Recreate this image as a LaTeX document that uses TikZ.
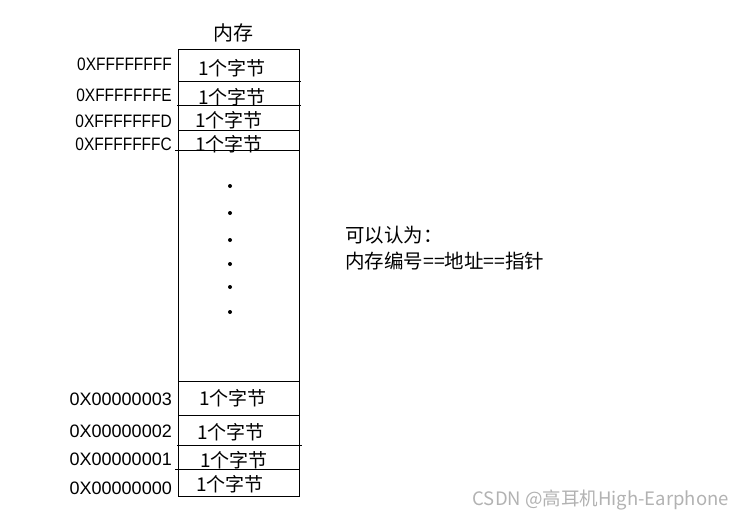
\documentclass[tikz,border=0pt]{standalone}
\usepackage{fontspec}
\setmainfont{Liberation Sans}
\newfontfamily\cjk{Noto Sans CJK SC}
\usetikzlibrary{positioning}

\begin{document}
\begin{tikzpicture}[x=1pt,y=-1pt,
addr/.style={anchor=east,inner sep=0pt,font=\fontsize{18}{18}\selectfont},
cell/.style={inner sep=0pt,font=\cjk\fontsize{19}{19}\selectfont},
dot/.style={circle,fill,inner sep=0pt,minimum size=4pt}]
\useasboundingbox (0,0) rectangle (743,520);
\node[cell,font=\cjk\fontsize{20}{20}\selectfont] (title) at (233,33) {内存};
\draw (178,49) rectangle (299,496);
\draw (178,81) -- (301,81) (177,105) -- (301,105) (178,130) -- (300,130)
(175,150) -- (299,150) (178,381) -- (299,381) (178,415) -- (299,415)
(177,445) -- (302,445) (175,469) -- (300,469);
\foreach \y/\a/\s/\x/\c [count=\i] in {64/FFFFFFFF/.86/232/68,95/FFFFFFFE/.86/232/97,
121/FFFFFFFD/.86/229/120,144/FFFFFFFC/.86/229/144,399/00000003/1/233/398,
431/00000002/1/231/432,459/00000001/1/234/460,488/00000000/1/230/484}
{
\node[addr] (a\i) at (172,\y) {\scalebox{\s}[1]{0X\a}};
\node[cell] (c\i) at (\x,\c) {1个字节};
}
\foreach \y [count=\i] in {186,213,240,264,287,312}
\node[dot] (d\i) at (230,\y) {};
\node[cell,anchor=west,font=\cjk\fontsize{19.5}{19.5}\selectfont] (note1) at (345,235) {可以认为：};
\node[cell,anchor=west,font=\cjk\fontsize{19.5}{19.5}\selectfont] (note2) at (345,261) {内存编号==地址==指针};
\node[cell,anchor=east,text=gray!60,font=\cjk\fontsize{18.5}{18.5}\selectfont] (mark) at (729,500) {CSDN @高耳机High-Earphone};
\end{tikzpicture}
\end{document}
